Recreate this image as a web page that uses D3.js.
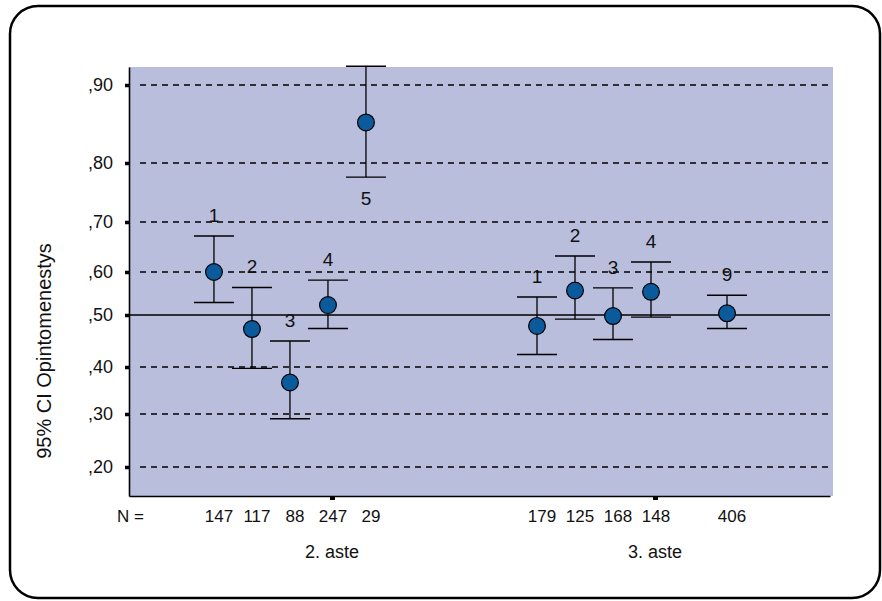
<!DOCTYPE html>
<html>
<head>
<meta charset="utf-8">
<script src="https://cdn.jsdelivr.net/npm/d3@7"></script>
<style>
    body { margin: 0; background: #fff; }
    svg text { font-family: 'Liberation Sans', Arial, sans-serif; fill: #111; }
    .axis path, .axis line { stroke: #000; }
</style>
</head>
<body>
<svg id="chart"></svg>
<script>
// Chart data.
const groups = ['2. aste', '3. aste'];
const slots = ['1', '2', '3', '4', '5', '9'];
const seriesGroup = ['2. aste', '2. aste', '2. aste', '2. aste', '2. aste', '3. aste', '3. aste', '3. aste', '3. aste', '3. aste'];
const seriesLabel = ['1', '2', '3', '4', '5', '1', '2', '3', '4', '9'];
const means = [0.600, 0.473, 0.367, 0.523, 0.852, 0.479, 0.557, 0.498, 0.554, 0.504];
const lower = [0.529, 0.397, 0.291, 0.474, 0.776, 0.424, 0.492, 0.453, 0.496, 0.474];
const upper = [0.672, 0.564, 0.450, 0.581, 0.924, 0.542, 0.632, 0.563, 0.620, 0.546];
const counts = [147, 117, 88, 247, 29, 179, 125, 168, 148, 406];
const yTicks = [0.2, 0.3, 0.4, 0.5, 0.6, 0.7, 0.8, 0.9];
const referenceValue = 0.5;
const yTitle = '95% CI Opintomenestys';

// Chart dimensions.
const width = 882, height = 601;
const plotLeft = 129, plotRight = 833, axisRight = 830, plotTop = 67, plotBottom = 496;
const gridStart = 140;

const svg = d3.select('#chart').attr('width', width).attr('height', height);

// Outer rounded frame.
svg.append('rect')
    .attr('x', 10).attr('y', 6)
    .attr('width', 870).attr('height', 592)
    .attr('rx', 28)
    .attr('fill', '#fff')
    .attr('stroke', '#000')
    .attr('stroke-width', 2.5);

// Y scale (the source axis is unevenly spaced, so map each tick to its row).
const y = d3.scaleLinear()
    .domain([0.145, ...yTicks, 0.923])
    .range([plotBottom, 467, 414, 367, 315, 272, 222, 163, 85, plotTop]);

// X scales: one point per group, then a slot offset inside it.
const x = d3.scalePoint()
    .domain(groups)
    .range([plotLeft, axisRight])
    .padding(0.585)
    .align(0.537);

const xSlot = d3.scalePoint()
    .domain(slots)
    .range([-118, 72]);

const data = means.map((m, i) => ({
    group: seriesGroup[i],
    label: seriesLabel[i],
    mean: m,
    lo: lower[i],
    hi: upper[i],
    n: counts[i],
}));
const cx = d => x(d.group) + xSlot(d.label);

// Plot background.
svg.append('rect')
    .attr('x', plotLeft).attr('y', plotTop)
    .attr('width', plotRight - plotLeft).attr('height', plotBottom - plotTop)
    .attr('fill', '#b9bedc');

// Grid lines.
svg.append('g')
    .selectAll('line')
    .data(yTicks.filter(t => t !== referenceValue))
    .enter()
    .append('line')
    .attr('x1', gridStart).attr('x2', axisRight)
    .attr('y1', d => y(d)).attr('y2', d => y(d))
    .attr('stroke', '#000')
    .attr('stroke-width', 1.6)
    .attr('stroke-dasharray', '6,5');

// Reference line.
svg.append('line')
    .attr('x1', plotLeft).attr('x2', axisRight)
    .attr('y1', y(referenceValue)).attr('y2', y(referenceValue))
    .attr('stroke', '#000')
    .attr('stroke-width', 1.4);

// Y axis.
const fmt = v => d3.format('.2f')(v).replace(/^0/, '').replace('.', ',');
const yAxis = svg.append('g')
    .attr('class', 'axis')
    .attr('transform', `translate(${plotLeft}, 0)`)
    .call(d3.axisLeft(y).tickValues(yTicks).tickFormat(fmt).tickSize(4).tickSizeOuter(0).tickPadding(12));
yAxis.select('.domain').attr('stroke-width', 1.6);
yAxis.selectAll('.tick line').attr('stroke-width', 3.5);
yAxis.selectAll('.tick text').attr('font-size', 18).attr('fill', '#111');

// X axis.
const xAxis = svg.append('g')
    .attr('class', 'axis')
    .attr('transform', `translate(0, ${plotBottom})`)
    .call(d3.axisBottom(x).tickFormat('').tickSize(4).tickSizeOuter(0));
xAxis.select('.domain').attr('stroke-width', 1.6);
xAxis.selectAll('.tick line').attr('stroke-width', 5);

// Y-axis title.
svg.append('text')
    .attr('transform', `translate(51, 351) rotate(-90)`)
    .attr('text-anchor', 'middle')
    .attr('font-size', 20)
    .text(yTitle);

// Error bars.
const bars = svg.append('g')
    .selectAll('.bar')
    .data(data)
    .enter()
    .append('g')
    .attr('class', 'bar');

bars.append('line')
    .attr('x1', cx).attr('x2', cx)
    .attr('y1', d => y(d.hi)).attr('y2', d => y(d.lo))
    .attr('stroke', '#000').attr('stroke-width', 1.3);

['hi', 'lo'].forEach(k => {
    bars.append('line')
        .attr('x1', d => cx(d) - 20).attr('x2', d => cx(d) + 20)
        .attr('y1', d => y(d[k])).attr('y2', d => y(d[k]))
        .attr('stroke', '#000').attr('stroke-width', 1.4);
});

bars.append('circle')
    .attr('cx', cx)
    .attr('cy', d => y(d.mean))
    .attr('r', 8.4)
    .attr('fill', '#0a5a9c')
    .attr('stroke', '#000')
    .attr('stroke-width', 1.2);

// Category labels above the bar, or below it when there is no room.
bars.append('text')
    .attr('x', cx)
    .attr('y', d => (y(d.hi) - 21 < plotTop ? y(d.lo) + 28 : y(d.hi) - 14))
    .attr('text-anchor', 'middle')
    .attr('font-size', 19)
    .text(d => d.label);

// Counts row.
svg.append('text')
    .attr('x', 117).attr('y', 522)
    .attr('font-size', 17)
    .text('N =');

svg.append('g')
    .selectAll('text')
    .data(data)
    .enter()
    .append('text')
    .attr('x', d => cx(d) + 5)
    .attr('y', 522)
    .attr('text-anchor', 'middle')
    .attr('font-size', 17)
    .text(d => d.n);

// Group labels.
svg.append('g')
    .selectAll('text')
    .data(groups)
    .enter()
    .append('text')
    .attr('x', g => x(g))
    .attr('y', 558)
    .attr('text-anchor', 'middle')
    .attr('font-size', 18)
    .text(g => g);
</script>
</body>
</html>
